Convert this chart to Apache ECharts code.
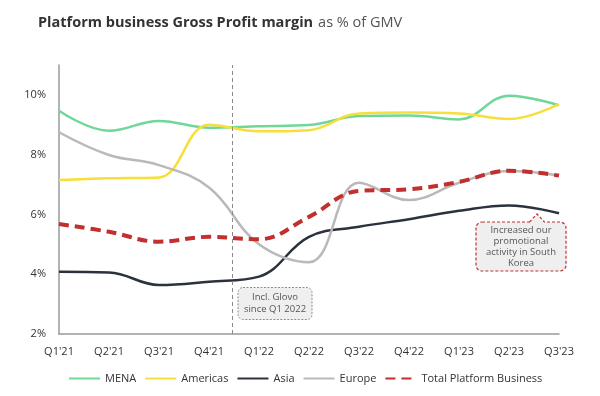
<!DOCTYPE html>
<html>
<head>
<meta charset="utf-8">
<script src="https://cdn.jsdelivr.net/npm/echarts@6/dist/echarts.min.js"></script>
<style>
  html, body { margin: 0; padding: 0; background: #fff; }
  #main { width: 600px; height: 396px; }
</style>
</head>
<body>
<div id="main"></div>
<script>
var chartDom = document.getElementById("main");
var myChart = echarts.init(chartDom);
var option;

// data (GP margin, % of GMV)
var quarters = ["Q1'21", "Q2'21", "Q3'21", "Q4'21", "Q1'22", "Q2'22", "Q3'22", "Q4'22", "Q1'23", "Q2'23", "Q3'23"];
var mena = [9.47, 8.8, 9.13, 8.9, 8.95, 8.99, 9.29, 9.31, 9.18, 9.97, 9.65];
var americas = [7.15, 7.21, 7.24, 9.0, 8.78, 8.82, 9.38, 9.41, 9.38, 9.19, 9.69];
var asia = [4.08, 4.06, 3.64, 3.75, 3.92, 5.25, 5.59, 5.84, 6.12, 6.3, 6.04];
var europe = [8.75, 7.99, 7.65, 6.9, 5.0, 4.4, 7.06, 6.48, 7.06, 7.45, 7.3];
var total = [5.68, 5.42, 5.09, 5.25, 5.17, 5.92, 6.79, 6.84, 7.09, 7.46, 7.3];
var glovoLine = 3.46; // position of the dashed "Incl. Glovo" divider, in quarter steps

var fontFamily = "Open Sans";

function lineSeries(name, data, color, width, dashed) {
  return {
    name: name,
    type: "line",
    data: data,
    smooth: 0.4,
    symbol: "none",
    lineStyle: {
      color: color,
      width: width,
      type: dashed ? [10, 6] : "solid"
    },
    itemStyle: { color: color },
    z: dashed ? 4 : 3
  };
}

option = {
  animation: false,
  title: {
    left: 33,
    top: 9,
    text: "{b|Platform business Gross Profit margin} {n|as % of GMV}",
    textStyle: {
      rich: {
        b: { fontFamily: fontFamily, fontSize: 14.5, fontWeight: "bold", color: "#333333" },
        n: { fontFamily: fontFamily, fontSize: 14.5, fontWeight: "normal", color: "#555555" }
      }
    }
  },
  legend: {
    top: 368,
    left: 63,
    itemWidth: 31,
    itemHeight: 10,
    itemGap: 8,
    itemStyle: { opacity: 0 },
    textStyle: { fontFamily: fontFamily, fontSize: 11, color: "#333333" },
    data: ["MENA", "Americas", "Asia", "Europe", "Total Platform Business"]
  },
  grid: { left: 59, right: 41, top: 65, bottom: 62 },
  xAxis: [
    {
      type: "category",
      data: quarters,
      boundaryGap: false,
      axisLine: { lineStyle: { color: "#9a9a9a", width: 1.5 } },
      axisTick: { show: false },
      axisLabel: { fontFamily: fontFamily, fontSize: 11, color: "#333333", margin: 12 }
    },
    {
      type: "value",
      min: 0,
      max: 10,
      show: false
    }
  ],
  yAxis: {
    type: "value",
    min: 2,
    max: 11,
    interval: 2,
    axisLine: { show: true, lineStyle: { color: "#9a9a9a", width: 1.5 } },
    axisTick: { show: false },
    splitLine: { show: false },
    axisLabel: {
      fontFamily: fontFamily,
      fontSize: 11,
      color: "#333333",
      margin: 13,
      showMaxLabel: false,
      formatter: function (v) { return v === 11 ? "" : v + "%"; }
    }
  },
  series: [
    {
      type: "line",
      xAxisIndex: 1,
      data: [],
      silent: true,
      markLine: {
        symbol: "none",
        silent: true,
        label: { show: false },
        lineStyle: { color: "#8a8a8a", type: [4, 3], width: 1 },
        data: [{ xAxis: glovoLine }]
      }
    },
    lineSeries("MENA", mena, "#6fd898", 2.5, false),
    lineSeries("Americas", americas, "#f7df3a", 2.5, false),
    lineSeries("Asia", asia, "#2b313d", 2.5, false),
    lineSeries("Europe", europe, "#b9b9b9", 2.5, false),
    lineSeries("Total Platform Business", total, "#c1302e", 4, true)
  ],
  graphic: [
    // Glovo note
    {
      type: "rect",
      shape: { x: 238, y: 287.5, width: 74, height: 32, r: 5 },
      style: { fill: "#efefef", stroke: "#8c8c8c", lineWidth: 1, lineDash: [2, 1.5] },
      z: 10
    },
    {
      type: "text",
      x: 275,
      y: 303.5,
      style: {
        text: "Incl. Glovo\nsince Q1 2022",
        fontFamily: fontFamily,
        fontSize: 9.5,
        lineHeight: 12,
        fill: "#555555",
        align: "center",
        verticalAlign: "middle"
      },
      z: 11
    },
    // South Korea note
    {
      type: "rect",
      shape: { x: 476, y: 222, width: 90, height: 49, r: 6 },
      style: { fill: "#efefef", stroke: "#c1302e", lineWidth: 1.2, lineDash: [3, 2] },
      z: 10
    },
    {
      type: "polygon",
      shape: { points: [[529, 223.6], [537, 214], [545, 223.6]] },
      style: { fill: "#efefef" },
      z: 11
    },
    {
      type: "polyline",
      shape: { points: [[529.5, 222], [537, 214], [544.5, 222]] },
      style: { fill: null, stroke: "#c1302e", lineWidth: 1.2, lineDash: [3, 2] },
      z: 11
    },
    {
      type: "text",
      x: 521,
      y: 246.5,
      style: {
        text: "Increased our\npromotional\nactivity in South\nKorea",
        fontFamily: fontFamily,
        fontSize: 9.5,
        lineHeight: 11,
        fill: "#555555",
        align: "center",
        verticalAlign: "middle"
      },
      z: 11
    }
  ]
};

option && myChart.setOption(option);
</script>
</body>
</html>
